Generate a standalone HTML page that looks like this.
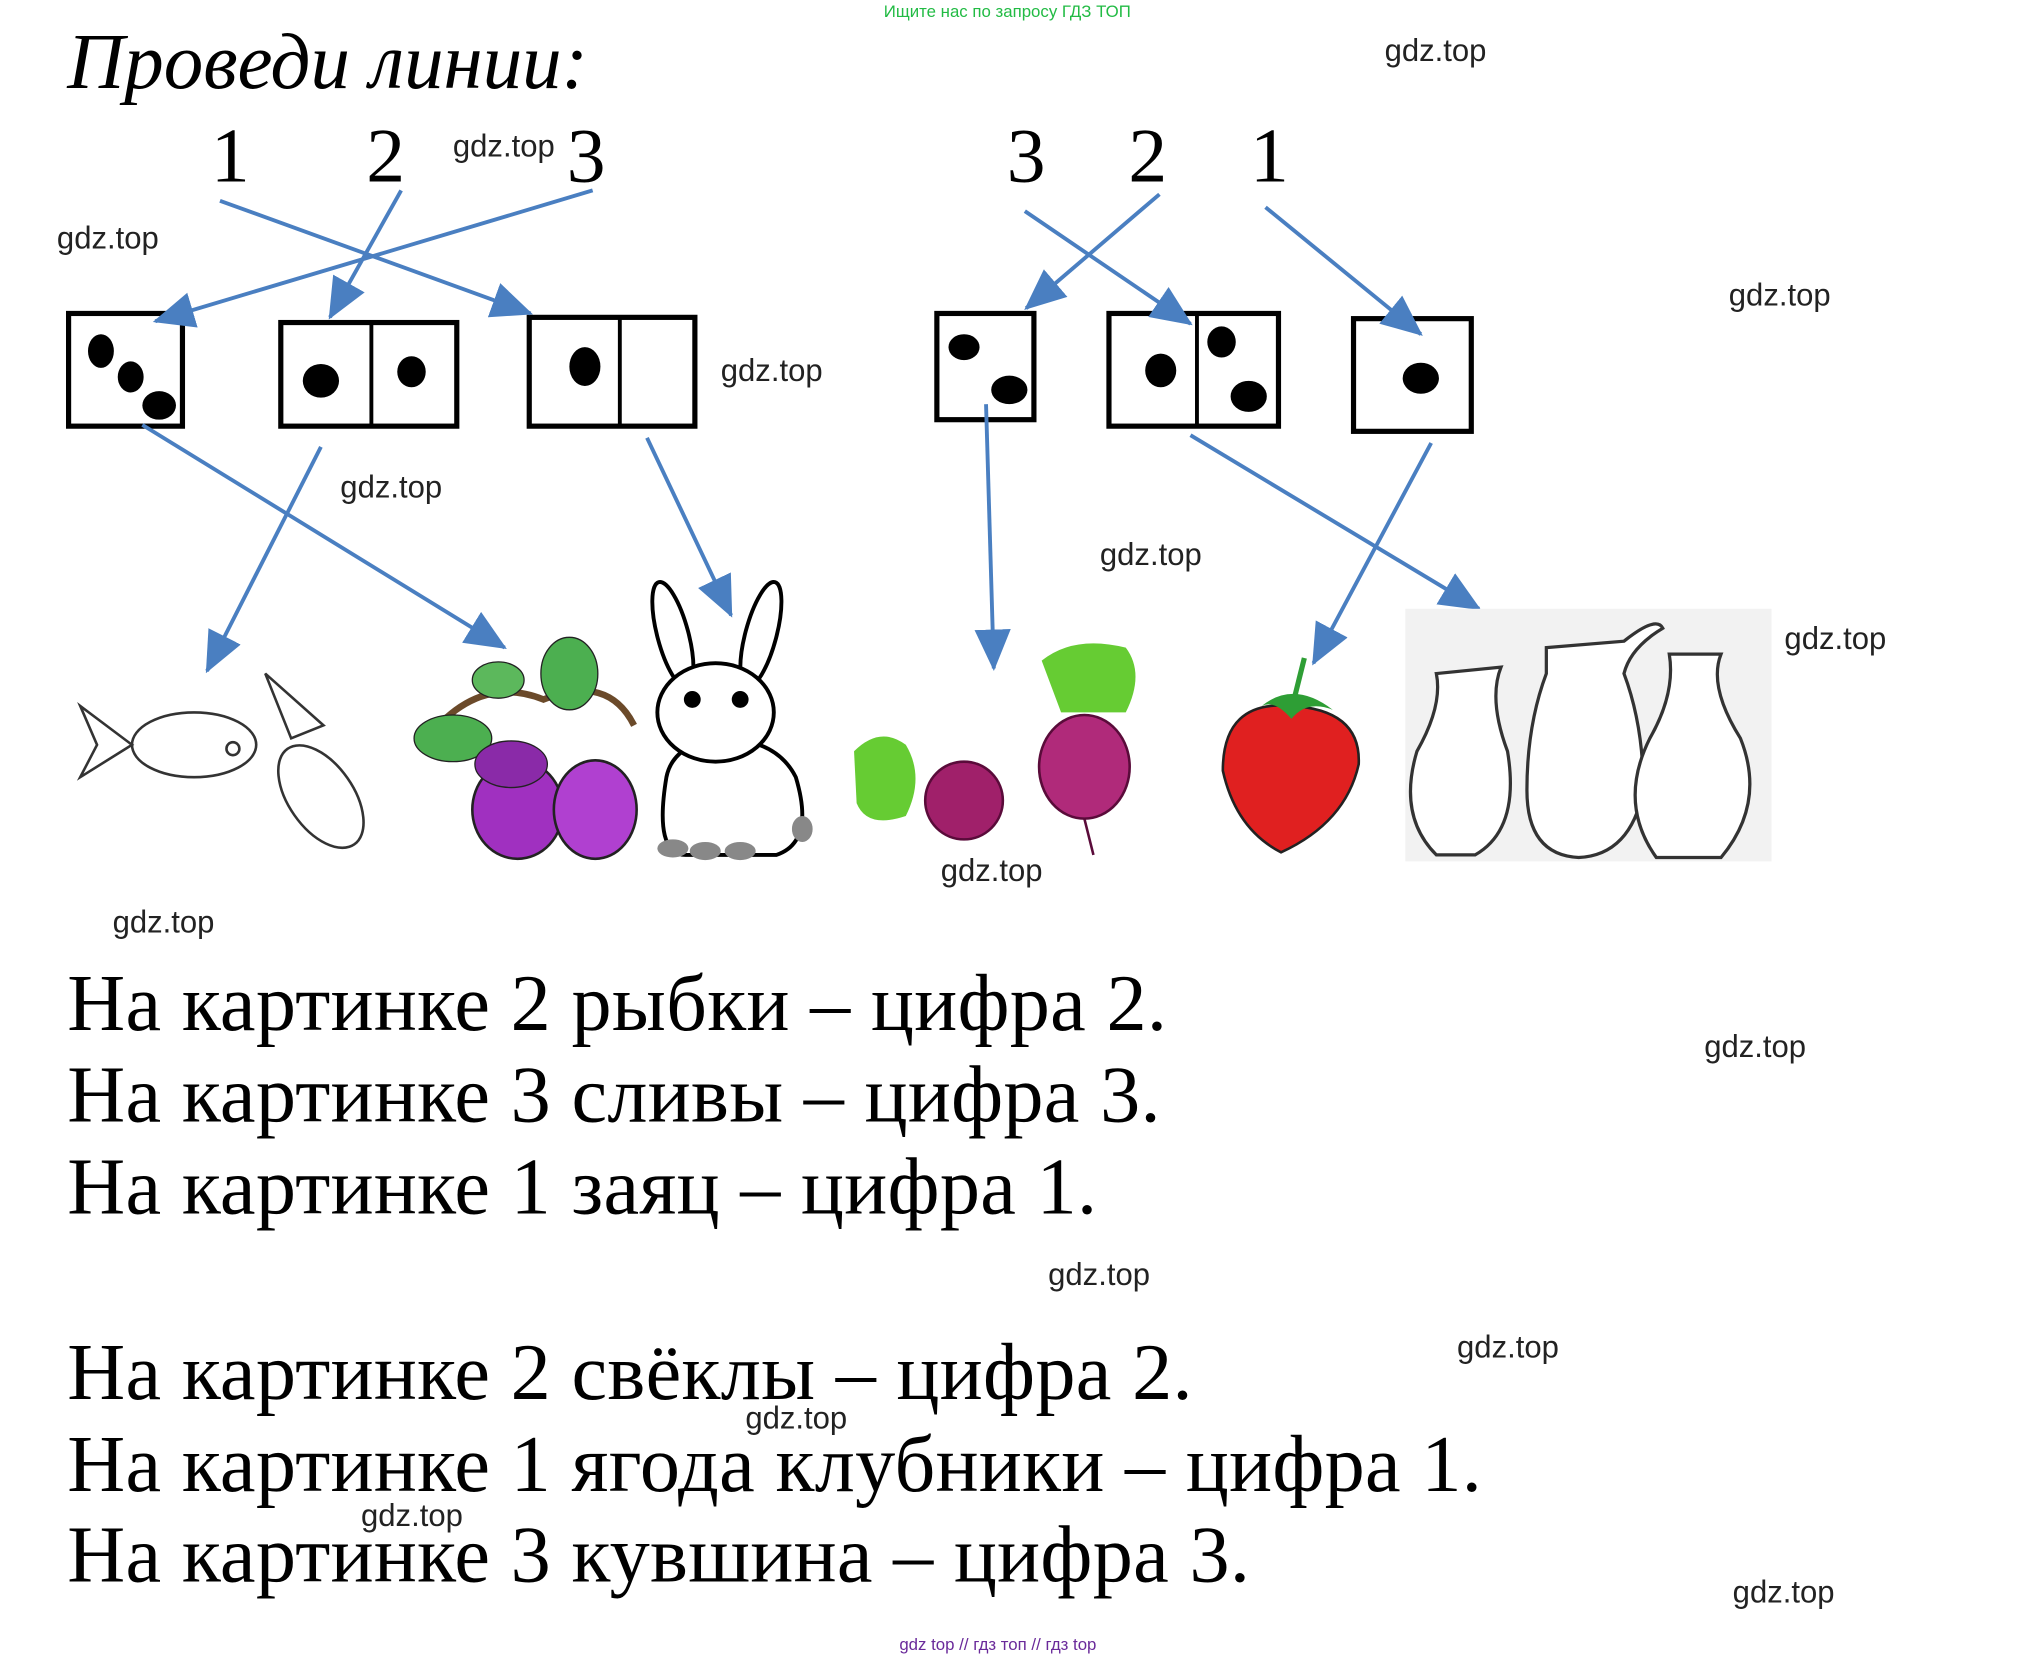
<!DOCTYPE html>
<html><head><meta charset="utf-8"><style>
html,body{margin:0;padding:0;background:#fff;}
svg{display:block;}
.wm{font-family:"Liberation Sans",sans-serif;font-size:24px;fill:#222;}
.num{font-family:"Liberation Serif",serif;font-size:60px;fill:#000;}
.t{font-family:"Liberation Serif","Noto Serif CJK SC",serif;font-size:62px;fill:#000;letter-spacing:0.25px;}
.ar{stroke:#4a7fc1;stroke-width:3;fill:none;}
.bx{stroke:#000;stroke-width:4;fill:#fff;}
</style></head><body>
<svg width="2029" height="1658" viewBox="0 0 1568 1280" preserveAspectRatio="none" xmlns="http://www.w3.org/2000/svg">
<defs><marker id="b" markerWidth="32" markerHeight="28" refX="30" refY="14" orient="auto" markerUnits="userSpaceOnUse"><path d="M0,0 L32,14 L0,28z" fill="#4a7fc1"/></marker></defs>
<text x="683" y="13" font-family="Liberation Sans,sans-serif" font-size="13" fill="#22bb44">Ищите нас по запросу ГДЗ ТОП</text>
<text x="52" y="68" font-family="Liberation Serif,serif" font-style="italic" font-size="61">Проведи линии:</text>
<text class="num" x="163" y="140">1</text><text class="num" x="283" y="140">2</text><text class="num" x="438" y="140">3</text>
<text class="num" x="778" y="140">3</text><text class="num" x="872" y="140">2</text><text class="num" x="966" y="140">1</text>
<g class="wm">
<text x="1070" y="47">gdz.top</text><text x="350" y="121">gdz.top</text><text x="44" y="192">gdz.top</text>
<text x="1336" y="236">gdz.top</text><text x="557" y="294">gdz.top</text><text x="263" y="384">gdz.top</text>
<text x="850" y="436">gdz.top</text><text x="1379" y="501">gdz.top</text><text x="727" y="680">gdz.top</text>
<text x="87" y="720">gdz.top</text><text x="1317" y="816">gdz.top</text><text x="810" y="992">gdz.top</text>
<text x="1126" y="1048">gdz.top</text><text x="576" y="1103">gdz.top</text><text x="279" y="1178">gdz.top</text>
<text x="1339" y="1237">gdz.top</text></g>
<rect class="bx" x="53" y="242" width="88" height="87"/>
<ellipse cx="78" cy="271" rx="10" ry="13"/><ellipse cx="101" cy="291" rx="10" ry="12"/><ellipse cx="123" cy="313" rx="13" ry="11"/>
<rect class="bx" x="217" y="249" width="136" height="80"/><line x1="287" y1="249" x2="287" y2="329" stroke="#000" stroke-width="3"/>
<ellipse cx="248" cy="294" rx="14" ry="13"/><ellipse cx="318" cy="287" rx="11" ry="12"/>
<rect class="bx" x="409" y="245" width="128" height="84"/><line x1="479" y1="245" x2="479" y2="329" stroke="#000" stroke-width="3"/>
<ellipse cx="452" cy="283" rx="12" ry="15"/>
<rect class="bx" x="724" y="242" width="75" height="82"/>
<ellipse cx="745" cy="268" rx="12" ry="10"/><ellipse cx="780" cy="301" rx="14" ry="11"/>
<rect class="bx" x="857" y="242" width="131" height="87"/><line x1="925" y1="242" x2="925" y2="329" stroke="#000" stroke-width="3"/>
<ellipse cx="897" cy="286" rx="12" ry="13"/><ellipse cx="944" cy="264" rx="11" ry="12"/><ellipse cx="965" cy="306" rx="14" ry="12"/>
<rect class="bx" x="1046" y="246" width="91" height="87"/><ellipse cx="1098" cy="292" rx="14" ry="12"/>
<g class="ar" marker-end="url(#b)">
<line x1="170" y1="155" x2="410" y2="242"/><line x1="310" y1="147" x2="255" y2="245"/><line x1="458" y1="147" x2="120" y2="248"/>
<line x1="110" y1="328" x2="390" y2="500"/><line x1="248" y1="345" x2="160" y2="518"/><line x1="500" y1="338" x2="565" y2="475"/>
<line x1="792" y1="163" x2="920" y2="250"/><line x1="896" y1="150" x2="793" y2="238"/><line x1="978" y1="160" x2="1098" y2="258"/>
<line x1="762" y1="312" x2="768" y2="516"/><line x1="920" y1="336" x2="1143" y2="470"/><line x1="1106" y1="342" x2="1015" y2="512"/>
</g>
<g fill="none" stroke="#333" stroke-width="2">
<ellipse cx="150" cy="575" rx="48" ry="25"/><path d="M102,575 L62,545 L75,575 L62,600z"/><circle cx="180" cy="578" r="5"/>
<ellipse cx="248" cy="615" rx="25" ry="45" transform="rotate(-35 248 615)"/><path d="M225,570 L205,520 L250,560z"/>
</g>
<g><path d="M330,570 Q370,520 420,540 Q470,520 490,560" stroke="#6b4a2a" stroke-width="5" fill="none"/>
<ellipse cx="350" cy="570" rx="30" ry="18" fill="#4caf50" stroke="#222"/><ellipse cx="440" cy="520" rx="22" ry="28" fill="#4caf50" stroke="#222"/><ellipse cx="385" cy="525" rx="20" ry="14" fill="#5cb85c" stroke="#222"/>
<ellipse cx="400" cy="625" rx="35" ry="38" fill="#a030c0" stroke="#222" stroke-width="2"/><ellipse cx="460" cy="625" rx="32" ry="38" fill="#b040d0" stroke="#222" stroke-width="2"/><ellipse cx="395" cy="590" rx="28" ry="18" fill="#8a2aa8" stroke="#222"/></g>
<g stroke="#000" stroke-width="3" fill="#fff">
<ellipse cx="520" cy="490" rx="12" ry="42" transform="rotate(-15 520 490)"/><ellipse cx="588" cy="490" rx="12" ry="42" transform="rotate(15 588 490)"/>
<path d="M515,600 Q505,660 530,660 L600,660 Q630,650 615,600 Q600,570 555,570 Q520,575 515,600z"/>
<ellipse cx="553" cy="550" rx="45" ry="38"/>
<circle cx="535" cy="540" r="5" fill="#000"/><circle cx="572" cy="540" r="5" fill="#000"/></g>
<g fill="#888"><ellipse cx="520" cy="655" rx="12" ry="7"/><ellipse cx="545" cy="657" rx="12" ry="7"/><ellipse cx="572" cy="657" rx="12" ry="7"/><ellipse cx="620" cy="640" rx="8" ry="10"/></g>
<g><path d="M660,580 Q680,560 700,575 Q715,600 700,630 Q670,640 662,620z" fill="#66cc33"/>
<circle cx="745" cy="618" r="30" fill="#a0206a" stroke="#5a0b3a" stroke-width="2"/>
<path d="M805,510 Q830,490 870,500 Q885,520 870,550 L820,550z" fill="#66cc33"/>
<ellipse cx="838" cy="592" rx="35" ry="40" fill="#b02a7a" stroke="#5a0b3a" stroke-width="2"/>
<path d="M838,632 L845,660" stroke="#5a0b3a" stroke-width="2"/></g>
<g><path d="M998,545 Q945,540 945,595 Q955,640 990,658 Q1040,635 1050,590 Q1052,548 998,545z" fill="#e02020" stroke="#222" stroke-width="2"/>
<path d="M975,545 Q1000,525 1030,548 Q1010,540 998,555 Q985,540 975,545z" fill="#2e9e35"/><path d="M1000,540 L1008,508" stroke="#2e9e35" stroke-width="4"/></g>
<rect x="1086" y="470" width="283" height="195" fill="#f2f2f2"/>
<g fill="#fff" stroke="#333" stroke-width="2.5">
<path d="M1110,520 L1160,515 Q1150,540 1165,580 Q1175,640 1140,660 L1110,660 Q1080,630 1095,580 Q1115,545 1110,520z"/>
<path d="M1195,500 L1255,495 Q1280,475 1285,485 Q1260,500 1255,520 Q1270,560 1270,610 Q1260,660 1220,662 Q1180,660 1180,610 Q1180,560 1195,520z"/>
<path d="M1290,505 L1330,505 Q1320,530 1345,570 Q1365,620 1330,662 L1280,662 Q1250,620 1275,570 Q1295,535 1290,505z"/></g>
<text class="t" x="52" y="795">На картинке 2 рыбки – цифра 2.</text>
<text class="t" x="52" y="866">На картинке 3 сливы – цифра 3.</text>
<text class="t" x="52" y="937">На картинке 1 заяц – цифра 1.</text>
<text class="t" x="52" y="1080">На картинке 2 свёклы – цифра 2.</text>
<text class="t" x="52" y="1151">На картинке 1 ягода клубники – цифра 1.</text>
<text class="t" x="52" y="1221">На картинке 3 кувшина – цифра 3.</text>
<text x="695" y="1274" font-family="Liberation Sans,sans-serif" font-size="13" fill="#6a2a9a">gdz top  //  гдз топ  //  гдз top</text>
</svg>
</body></html>
